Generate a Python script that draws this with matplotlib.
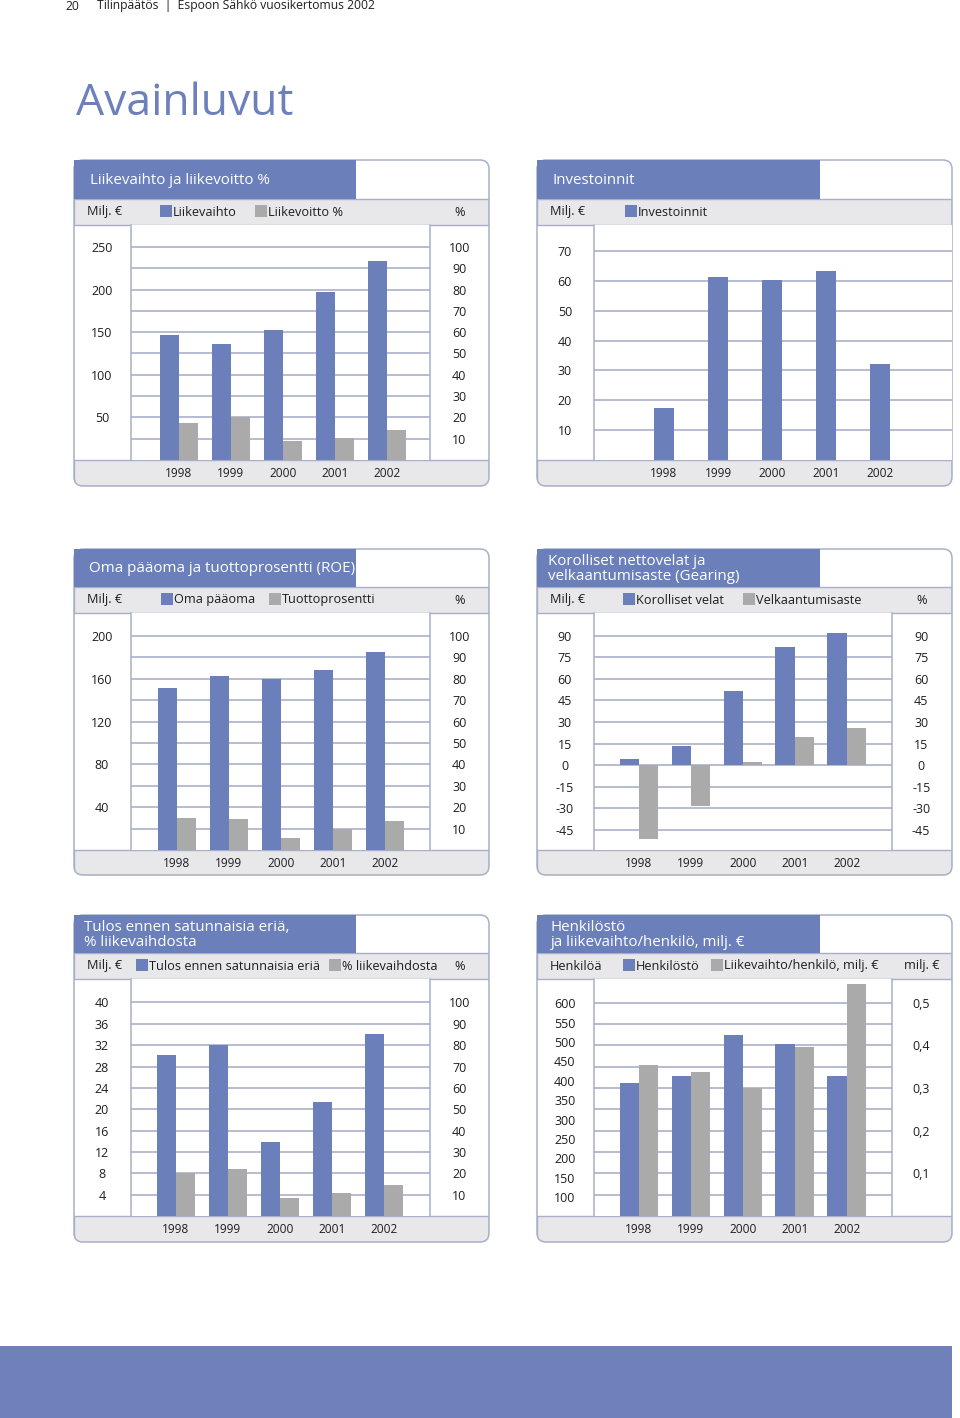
import matplotlib
matplotlib.use("Agg")
import matplotlib.pyplot as plt
from matplotlib.patches import Rectangle, FancyBboxPatch
import numpy as np

plt.rcParams['font.family'] = ['Open Sans', 'DejaVu Sans']

BLUE = '#6b80bb'
GREY = '#aaaaaa'
BAND = '#e8e8ea'
EDGE = '#a9afc8'
GRID = '#a4aac3'
TEXT = '#1e1e1e'

# ---- data ----
years = ['1998', '1999', '2000', '2001', '2002']

liikevaihto = [146.5, 136, 153, 197, 234]
liikevoitto_pct = [17.2, 20.3, 9.1, 10.2, 14.1]

investoinnit = [17.3, 61.2, 60.4, 63.4, 32.1]

oma_paaoma = [151.6, 162.4, 159.9, 167.9, 184.9]
tuottoprosentti = [15.1, 14.5, 5.7, 9.6, 13.4]

korolliset_velat = [4.6, 13.2, 51.5, 82.0, 91.6]
velkaantumisaste = [-51.0, -28.3, 2.3, 19.9, 26.2]

tulos = [30.1, 32.1, 13.9, 21.3, 34.1]
tulos_pct = [20.2, 22.2, 8.5, 10.6, 14.4]

henkilosto = [394, 413, 517, 494, 413]
lv_per_henkilo = [0.354, 0.338, 0.301, 0.396, 0.543]

# ---- page ----
W, H = 960, 1418
fig = plt.figure(figsize=(W / 100, H / 100), dpi=100)
bg = fig.add_axes([0, 0, 1, 1])
bg.set_xlim(0, W)
bg.set_ylim(H, 0)
bg.axis('off')

bg.text(65, 6, '20', fontsize=8.7, color=TEXT, va='center')
bg.text(97, 6, 'Tilinpäätös  |  Espoon Sähkö vuosikertomus 2002', fontsize=8.7, color=TEXT, va='center')
bg.text(76, 104, 'Avainluvut', fontsize=32, color='#6d80bb', va='center')
bg.add_patch(Rectangle((0, 1346), 952, H - 1346, fc='#6e82b9', ec='none'))

ROW1 = (160, 199, 225, 460, 486)
ROW2 = (549, 587, 613, 850, 875)
ROW3 = (915, 953, 979, 1216, 1242)
LEFT = (74, 489, 131, 430, 356)
RIGHT = (537, 952, 594, 892, 820)


def px_axes(x0, y0, x1, y1):
    return fig.add_axes([x0 / W, 1 - y1 / H, (x1 - x0) / W, (y1 - y0) / H])


def frame(col, row, title, tx, unit_left, items, unit_right=None):
    x0, x1, pl, pr, br = col
    top, t_bot, l_bot, p_bot, bot = row
    box = FancyBboxPatch((x0, top), x1 - x0, bot - top,
                         boxstyle='round,pad=0,rounding_size=9', fc='white', ec='none')
    bg.add_patch(box)
    for ya, yb in [(t_bot, l_bot), (p_bot, bot)]:
        r = Rectangle((x0, ya), x1 - x0, yb - ya, fc=BAND, ec=EDGE, lw=1.0)
        bg.add_patch(r)
        r.set_clip_path(box)
    bg.add_patch(FancyBboxPatch((x0, top), x1 - x0, bot - top,
                                boxstyle='round,pad=0,rounding_size=9', fc='none', ec=EDGE, lw=1.1))
    bg.add_patch(Rectangle((x0, top), br - x0, t_bot - top, fc=BLUE, ec='none'))
    bg.text(tx, (top + t_bot) / 2 + 1, title, color='white', fontsize=10.9,
            va='center', linespacing=1.08)
    yc = (t_bot + l_bot) / 2
    bg.text(x0 + 13, yc, unit_left, fontsize=9.2, color=TEXT, va='center')
    for sx, label, c in items:
        bg.add_patch(Rectangle((sx, yc - 7), 11.5, 11.5, fc=c, ec='none'))
        bg.text(sx + 13, yc, label, fontsize=9.2, color=TEXT, va='center')
    if unit_right:
        bg.text((pr + x1) / 2, yc, unit_right, fontsize=9.2, color=TEXT, va='center', ha='center')
    ax = px_axes(pl, l_bot, pr if unit_right else x1, p_bot)
    ax.set_facecolor('white')
    for s in ['top', 'bottom']:
        ax.spines[s].set_visible(False)
    for s in ['left', 'right']:
        ax.spines[s].set_color(EDGE)
        ax.spines[s].set_linewidth(1.1)
    if not unit_right:
        ax.spines['right'].set_visible(False)
    ax.set_xticks(range(len(years)), years, fontsize=8.6, color=TEXT)
    ax.tick_params(axis='x', length=0, pad=5)
    ax.grid(axis='y', color=GRID, lw=1.1)
    ax.set_axisbelow(True)
    return ax


def yaxis(ax, lim, ticks, labels):
    ax.set_ylim(lim)
    ax.set_yticks(ticks, labels, ha='center', fontsize=9, color=TEXT)
    ax.tick_params(axis='y', length=0, pad=21)


def twin(ax):
    ax2 = ax.twinx()
    for s in ax2.spines.values():
        s.set_visible(False)
    return ax2


x = np.arange(len(years))

# ---- 1: Liikevaihto ja liikevoitto % ----
ax = frame(LEFT, ROW1, 'Liikevaihto ja liikevoitto %', 90, 'Milj. €',
           [(160, 'Liikevaihto', BLUE), (255, 'Liikevoitto %', GREY)], '%')
w = 0.365
ax.set_xlim(-0.92, 4.83)
g = np.arange(25, 251, 25)
yaxis(ax, (0, 275.8), g, [str(v) if v % 50 == 0 else '' for v in g])
ax.bar(x - w / 2, liikevaihto, w, color=BLUE)
ax2 = twin(ax)
r = np.arange(10, 101, 10)
yaxis(ax2, (0, 110.3), r, [str(v) for v in r])
ax2.bar(x + w / 2, liikevoitto_pct, w, color=GREY)

# ---- 2: Investoinnit ----
ax = frame(RIGHT, ROW1, 'Investoinnit', 553, 'Milj. €', [(625, 'Investoinnit', BLUE)])
ax.set_xlim(-1.296, 5.333)
g = np.arange(10, 71, 10)
yaxis(ax, (0, 78.7), g, [str(v) for v in g])
ax.bar(x, investoinnit, 0.36, color=BLUE)

# ---- 3: Oma pääoma ja tuottoprosentti ----
ax = frame(LEFT, ROW2, 'Oma pääoma ja tuottoprosentti (ROE)', 89, 'Milj. €',
           [(161, 'Oma pääoma', BLUE), (269, 'Tuottoprosentti', GREY)], '%')
w = 0.37
ax.set_xlim(-0.882, 4.87)
g = np.arange(20, 201, 20)
yaxis(ax, (0, 221.5), g, [str(v) if v % 40 == 0 else '' for v in g])
ax.bar(x - w / 2, oma_paaoma, w, color=BLUE)
ax2 = twin(ax)
r = np.arange(10, 101, 10)
yaxis(ax2, (0, 110.75), r, [str(v) for v in r])
ax2.bar(x + w / 2, tuottoprosentti, w, color=GREY)

# ---- 4: Korolliset nettovelat ja velkaantumisaste ----
ax = frame(RIGHT, ROW2, 'Korolliset nettovelat ja\nvelkaantumisaste (Gearing)', 548, 'Milj. €',
           [(623, 'Korolliset velat', BLUE), (743, 'Velkaantumisaste', GREY)], '%')
ax.set_xlim(-0.867, 4.875)
g = np.arange(-45, 91, 15)
yaxis(ax, (-58.9, 105.8), g, [str(v) for v in g])
ax.bar(x - w / 2, korolliset_velat, w, color=BLUE)
ax2 = twin(ax)
yaxis(ax2, (-58.9, 105.8), g, [str(v) for v in g])
ax2.bar(x + w / 2, velkaantumisaste, w, color=GREY)

# ---- 5: Tulos ennen satunnaisia eriä ----
ax = frame(LEFT, ROW3, 'Tulos ennen satunnaisia eriä,\n% liikevaihdosta', 84, 'Milj. €',
           [(136, 'Tulos ennen satunnaisia eriä', BLUE), (329, '% liikevaihdosta', GREY)], '%')
ax.set_xlim(-0.863, 4.89)
g = np.arange(4, 41, 4)
yaxis(ax, (0, 44.4), g, [str(v) for v in g])
ax.bar(x - w / 2, tulos, w, color=BLUE)
ax2 = twin(ax)
r = np.arange(10, 101, 10)
yaxis(ax2, (0, 111), r, [str(v) for v in r])
ax2.bar(x + w / 2, tulos_pct, w, color=GREY)

# ---- 6: Henkilöstö ja liikevaihto/henkilö ----
ax = frame(RIGHT, ROW3, 'Henkilöstö\nja liikevaihto/henkilö, milj. €', 551, 'Henkilöä',
           [(623, 'Henkilöstö', BLUE), (711, 'Liikevaihto/henkilö, milj. €', GREY)], 'milj. €')
ax.set_xlim(-0.867, 4.875)
# gridlines follow the right-hand scale, so that scale sits on the grid axis
ax2 = twin(ax)
ax.yaxis.tick_right()
ax2.yaxis.tick_left()
g = np.round(np.arange(0.05, 0.51, 0.05), 2)
yaxis(ax, (0, 0.5556), g,
      [f'{v:.1f}'.replace('.', ',') if round(v * 100) % 10 == 0 else '' for v in g])
ax.bar(x + w / 2, lv_per_henkilo, w, color=GREY)
s = np.arange(100, 601, 50)
yaxis(ax2, (51.8, 662.6), s, [str(v) for v in s])
ax2.bar(x - w / 2, henkilosto, w, color=BLUE)

fig.savefig('out.png', dpi=100)
